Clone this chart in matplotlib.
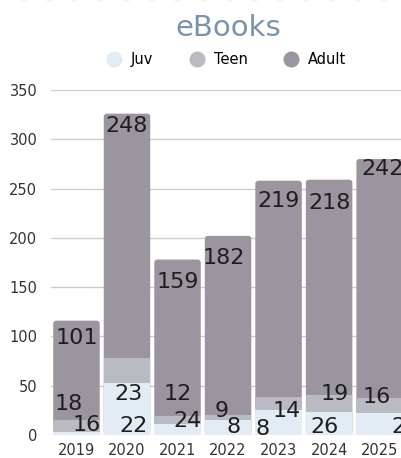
import numpy as np
import matplotlib.pyplot as plt
from matplotlib.lines import Line2D
from matplotlib.patches import FancyBboxPatch

# data
years = ['2019', '2020', '2021', '2022', '2023', '2024', '2025']
juv = [3, 53, 11, 15, 25, 23, 22]
teen = [12, 25, 8, 5, 14, 18, 16]
adult = [101, 248, 159, 182, 219, 218, 242]

# printed data labels
juv_labels = ['16', '22', '24', '8', '8', '26', '23']
teen_labels = ['18', '23', '12', '9', '14', '19', '16']
adult_labels = ['101', '248', '159', '182', '219', '218', '242']

# label nudges in pixels (dx, dy)
juv_dx = [10.5, 7, 9.5, 6, -16, -5, 26]
juv_dy = [10, 9, 14, 8, 6, 8, 8]
teen_dx = [-7.5, 2, 0, -6.5, 8, 6, -3]
teen_dy = [31, 41, 41, 24, 24, 41, 38]
adult_dx = [0, 0, 0, -4, 0, 0, 3]
adult_dy = [17, 12, 22, 22, 20, 23, 10]

c_juv = '#e3ebf4'
c_teen = '#b9bac2'
c_adult = '#9a959e'

fig = plt.figure(figsize=(4.01, 4.58), dpi=100)
ax = fig.add_axes([0.1277, 0.0502, 0.882, 0.7533])

x = np.arange(len(years))
w = 0.92
juv_a = np.array(juv)
teen_a = np.array(teen)
adult_a = np.array(adult)
tops = juv_a + teen_a + adult_a

# adult stack: rounded box from the ground up, lower part hidden by the other segments
ax.set_xlim(-0.5, len(years) - 0.5)
ax.set_ylim(0, 350)
aspect = (50.56 / 1.0) / (345 / 350)
for i in range(len(years)):
    ax.add_patch(FancyBboxPatch((x[i] - w / 2, 0), w, tops[i],
                                boxstyle='round,pad=0,rounding_size=0.06',
                                mutation_aspect=aspect, facecolor=c_adult,
                                edgecolor='none', zorder=2))
ax.bar(x, teen_a, w, bottom=juv_a, color=c_teen, zorder=3)
ax.bar(x, juv_a, w, color=c_juv, zorder=3)

k = 72 / 100
lab = dict(fontsize=16, color='#1e1e1e', ha='center', va='center',
           textcoords='offset points', zorder=4, annotation_clip=False)
for i in range(len(years)):
    ax.annotate(juv_labels[i], (x[i], 0), xytext=(juv_dx[i] * k, juv_dy[i] * k), **lab)
    ax.annotate(teen_labels[i], (x[i], 0), xytext=(teen_dx[i] * k, teen_dy[i] * k), **lab)
    ax.annotate(adult_labels[i], (x[i], tops[i]), xytext=(adult_dx[i] * k, -adult_dy[i] * k), **lab)

ax.set_yticks(np.arange(0, 351, 50))
ax.set_xticks(x)
ax.set_xticklabels(years)
ax.grid(axis='y', color='#cccccc', linewidth=1, zorder=0)
ax.set_axisbelow(True)
for s in ax.spines.values():
    s.set_visible(False)
ax.tick_params(length=0, labelsize=10.5, colors='#333333')
ax.tick_params(axis='y', pad=10)
ax.tick_params(axis='x', pad=6)

fig.text(0.569, 0.939, 'eBooks', fontsize=21, color='#7a92ab', ha='center', va='center')

handles = [Line2D([], [], marker='o', linestyle='', markersize=10.5, color=c)
           for c in (c_juv, c_teen, c_adult)]
fig.legend(handles, ['Juv', 'Teen', 'Adult'], loc='center', bbox_to_anchor=(0.565, 0.869),
           ncol=3, frameon=False, fontsize=10.5, handletextpad=0.65, columnspacing=2.5,
           handlelength=1.0)

# faint dots along the top edge
dots = fig.add_axes([0, 0, 1, 1], zorder=-1)
dots.axis('off')
dots.set_xlim(0, 401)
dots.set_ylim(458, 0)
dots.scatter(np.arange(23, 401, 25.7), np.full(15, -3), s=30, color='#f4f4f4', clip_on=False)

fig.savefig('out.png', dpi=100)
